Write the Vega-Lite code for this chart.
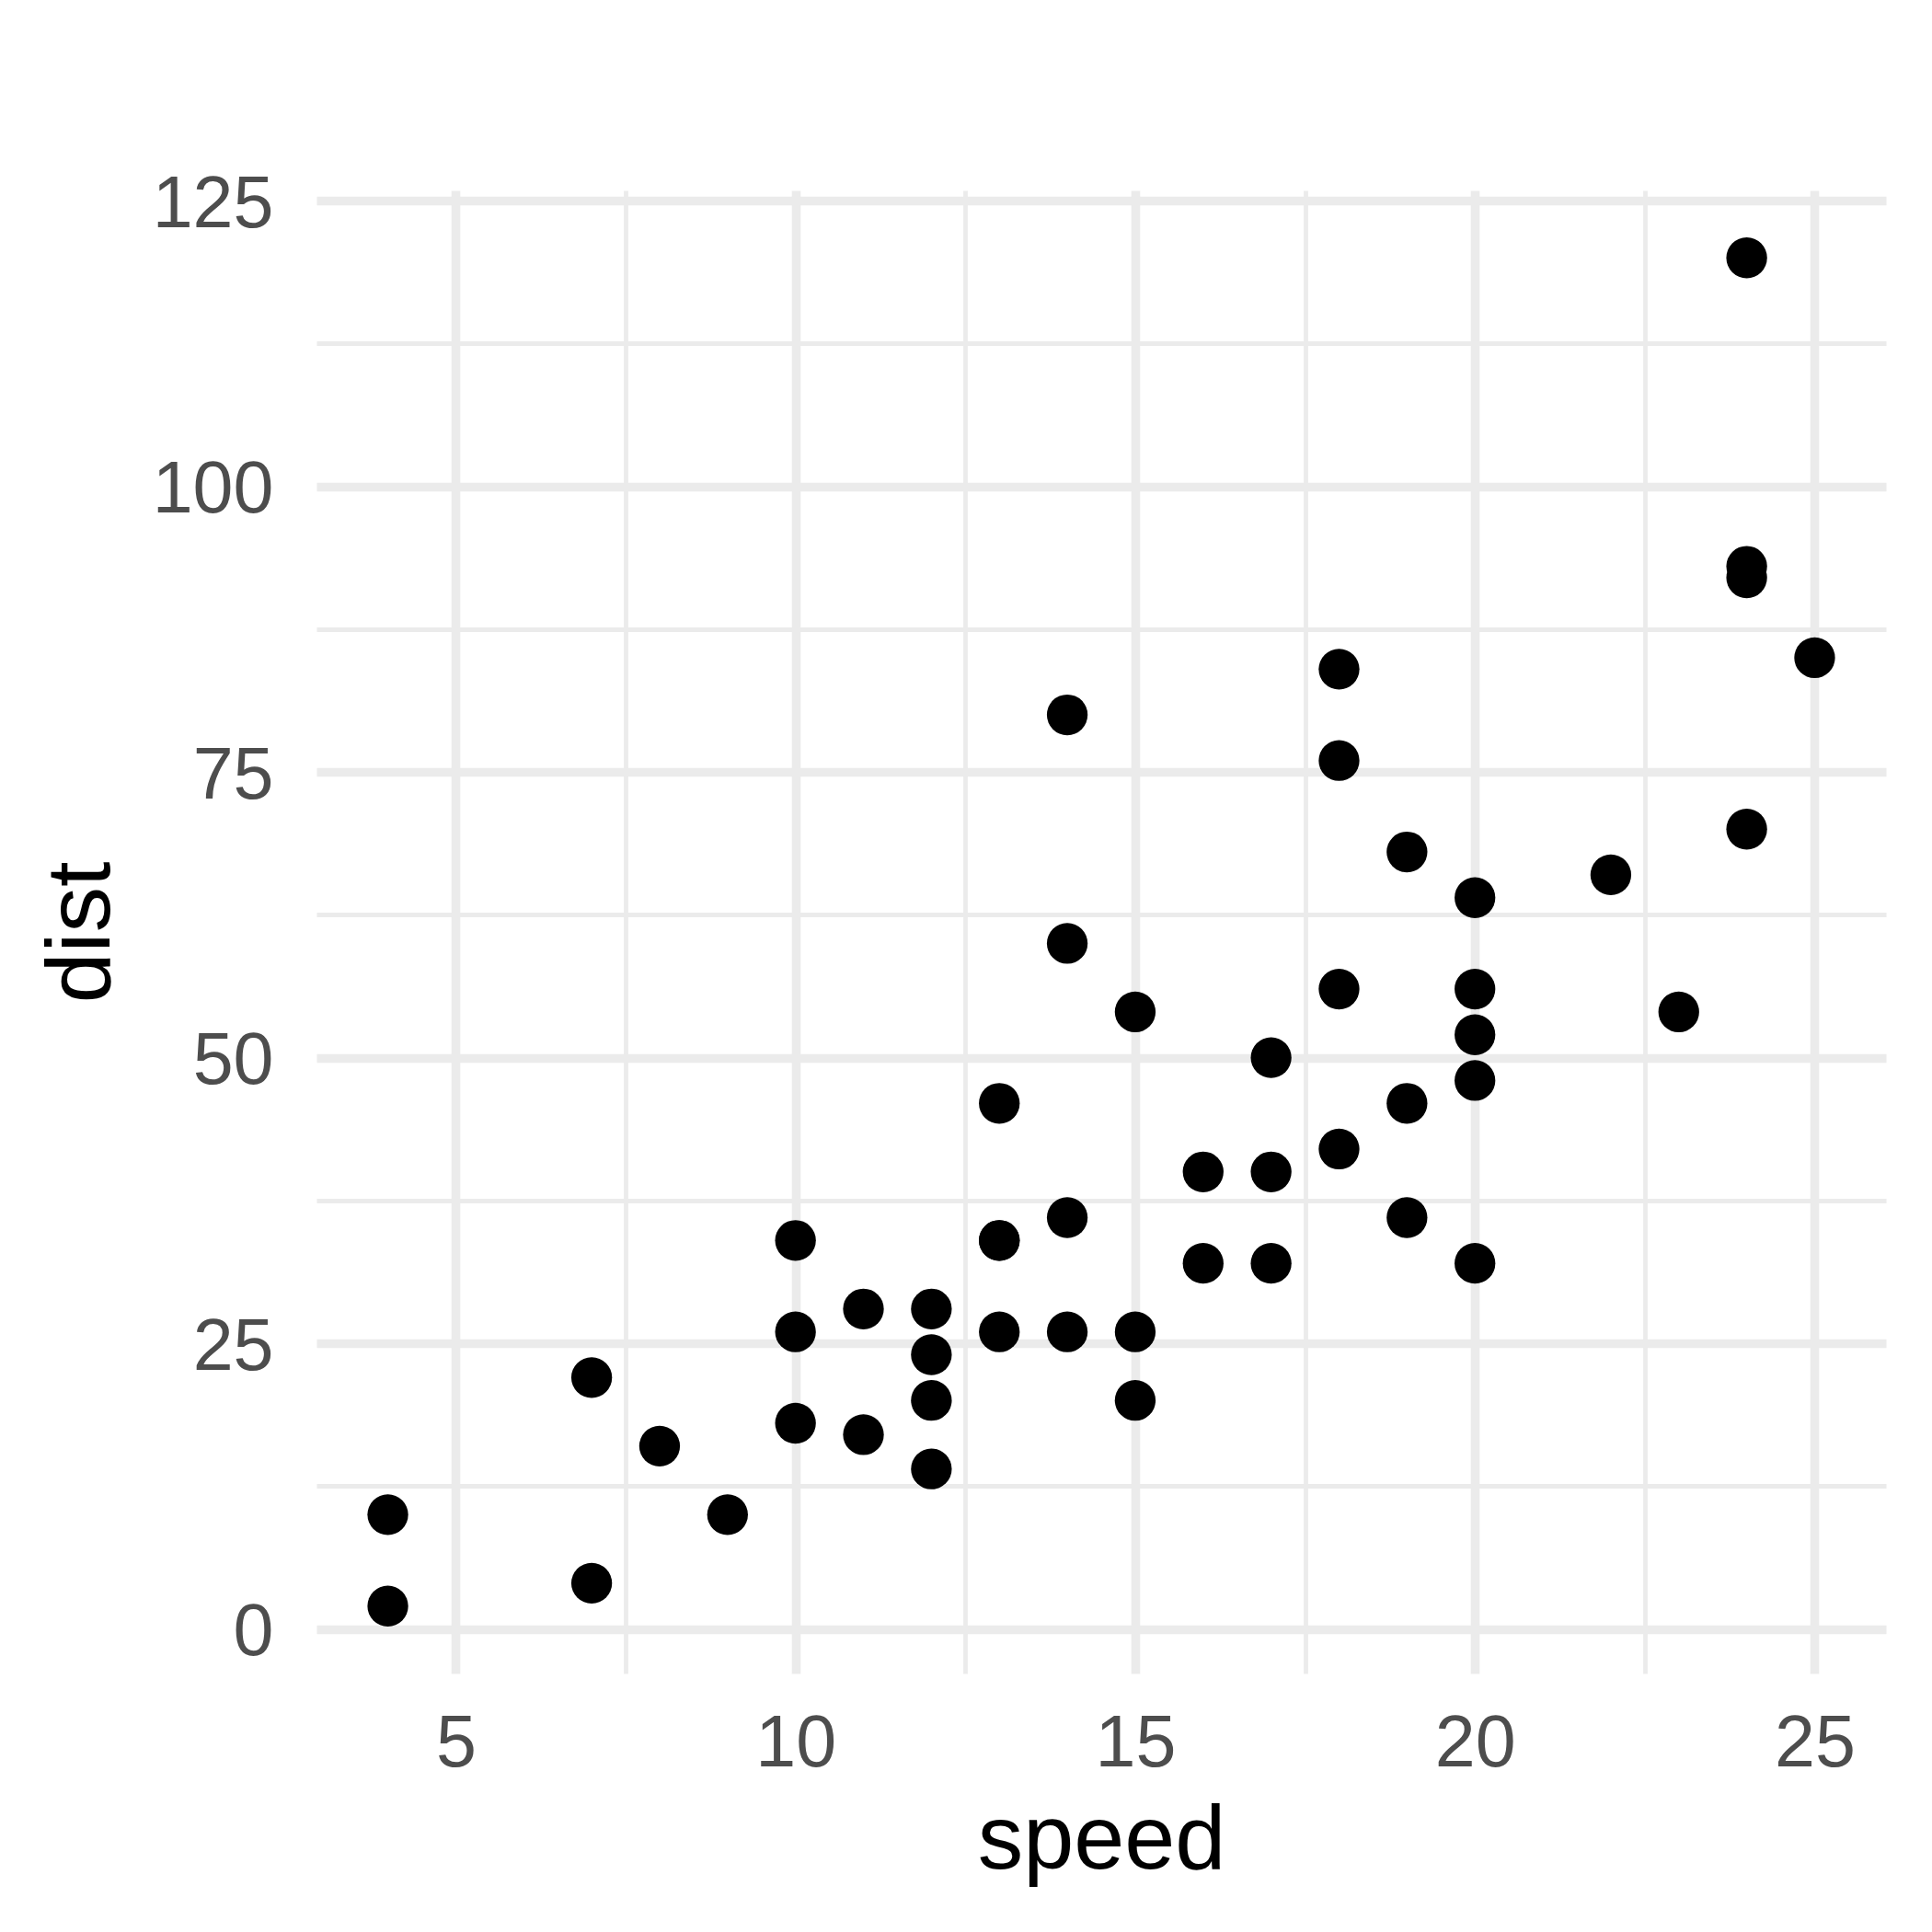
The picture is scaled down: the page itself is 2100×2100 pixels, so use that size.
{
  "$schema": "https://vega.github.io/schema/vega-lite/v6.json",
  "autosize": {"type": "none"},
  "width": 1706,
  "height": 1612,
  "padding": {"left": 344, "top": 207, "right": 50, "bottom": 281},
  "background": "white",
  "config": {
    "view": {"stroke": null},
    "axis": {
      "domain": false,
      "ticks": false,
      "tickSize": 0,
      "gridColor": "#EBEBEB",
      "labelFont": "Liberation Sans",
      "labelFontSize": 79,
      "labelColor": "#4D4D4D",
      "labelOverlap": false,
      "labelFlush": false,
      "titleFont": "Liberation Sans",
      "titleFontSize": 99,
      "titleFontWeight": "normal",
      "titleColor": "#000000"
    }
  },
  "data": {
    "values": [
      {"speed": 4, "dist": 2}, {"speed": 4, "dist": 10}, {"speed": 7, "dist": 4}, {"speed": 7, "dist": 22},
      {"speed": 8, "dist": 16}, {"speed": 9, "dist": 10}, {"speed": 10, "dist": 18}, {"speed": 10, "dist": 26},
      {"speed": 10, "dist": 34}, {"speed": 11, "dist": 17}, {"speed": 11, "dist": 28}, {"speed": 12, "dist": 14},
      {"speed": 12, "dist": 20}, {"speed": 12, "dist": 24}, {"speed": 12, "dist": 28}, {"speed": 13, "dist": 26},
      {"speed": 13, "dist": 34}, {"speed": 13, "dist": 34}, {"speed": 13, "dist": 46}, {"speed": 14, "dist": 26},
      {"speed": 14, "dist": 36}, {"speed": 14, "dist": 60}, {"speed": 14, "dist": 80}, {"speed": 15, "dist": 20},
      {"speed": 15, "dist": 26}, {"speed": 15, "dist": 54}, {"speed": 16, "dist": 32}, {"speed": 16, "dist": 40},
      {"speed": 17, "dist": 32}, {"speed": 17, "dist": 40}, {"speed": 17, "dist": 50}, {"speed": 18, "dist": 42},
      {"speed": 18, "dist": 56}, {"speed": 18, "dist": 76}, {"speed": 18, "dist": 84}, {"speed": 19, "dist": 36},
      {"speed": 19, "dist": 46}, {"speed": 19, "dist": 68}, {"speed": 20, "dist": 32}, {"speed": 20, "dist": 48},
      {"speed": 20, "dist": 52}, {"speed": 20, "dist": 56}, {"speed": 20, "dist": 64}, {"speed": 22, "dist": 66},
      {"speed": 23, "dist": 54}, {"speed": 24, "dist": 70}, {"speed": 24, "dist": 92}, {"speed": 24, "dist": 93},
      {"speed": 24, "dist": 120}, {"speed": 25, "dist": 85}
    ]
  },
  "mark": {"type": "circle", "size": 1963, "color": "#000000", "opacity": 1},
  "encoding": {
    "x": {
      "field": "speed",
      "type": "quantitative",
      "scale": {"domain": [2.95, 26.05], "nice": false, "zero": false},
      "axis": {
        "title": "speed",
        "values": [5, 7.5, 10, 12.5, 15, 17.5, 20, 22.5, 25],
        "labelExpr": "datum.value % 5 === 0 ? datum.label : ''",
        "gridWidth": {"condition": {"test": "datum.value % 5 === 0", "value": 9.6}, "value": 4.8},
        "labelBaseline": "alphabetic",
        "labelPadding": 100,
        "labelAlign": "center",
        "titleBaseline": "alphabetic",
        "titleY": 211
      }
    },
    "y": {
      "field": "dist",
      "type": "quantitative",
      "scale": {"domain": [-3.9, 125.9], "nice": false, "zero": false},
      "axis": {
        "title": "dist",
        "values": [0, 12.5, 25, 37.5, 50, 62.5, 75, 87.5, 100, 112.5, 125],
        "labelExpr": "datum.value % 25 === 0 ? datum.label : ''",
        "gridWidth": {"condition": {"test": "datum.value % 25 === 0", "value": 9.6}, "value": 4.8},
        "labelAlign": "right",
        "labelBaseline": "alphabetic",
        "labelOffset": 28,
        "labelPadding": 47,
        "titleBaseline": "alphabetic",
        "titleX": -226
      }
    }
  }
}
